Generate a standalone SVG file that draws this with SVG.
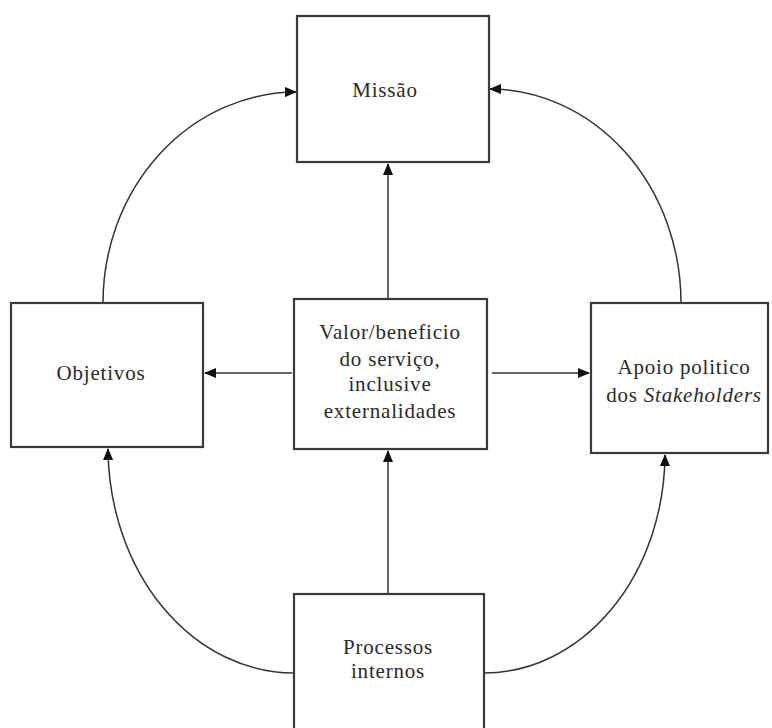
<svg xmlns="http://www.w3.org/2000/svg" width="772" height="728" viewBox="0 0 772 728">
<style>
.box{fill:#fff;stroke:#3a3a3a;stroke-width:2.2}
.lbl{font-family:"Liberation Serif","Times New Roman",serif;font-size:21px;fill:#2a2a2a;text-anchor:middle;letter-spacing:0.8px}
.con{fill:none;stroke:#333;stroke-width:1.5}
</style>
<defs>
<marker id="ah" markerWidth="12" markerHeight="10" refX="11" refY="5" orient="auto" markerUnits="userSpaceOnUse">
<path d="M0,0 L12,5 L0,10 Z" fill="#111"/>
</marker>
</defs>
<rect width="772" height="728" fill="#fff"/>
<g id="connectors">
<line class="con" x1="388" y1="299" x2="388" y2="164" marker-end="url(#ah)"/>
<line class="con" x1="388" y1="594" x2="388" y2="451" marker-end="url(#ah)"/>
<line class="con" x1="292" y1="373" x2="205" y2="373" marker-end="url(#ah)"/>
<line class="con" x1="492" y1="373" x2="589" y2="373" marker-end="url(#ah)"/>
<path class="con" d="M103,303 A194,211 0 0 1 296,92" marker-end="url(#ah)"/>
<path class="con" d="M681,303 A192,214 0 0 0 490,89" marker-end="url(#ah)"/>
<path class="con" d="M294,673 A186,226 0 0 1 108,449" marker-end="url(#ah)"/>
<path class="con" d="M484,673 A181,220 0 0 0 665,455" marker-end="url(#ah)"/>
</g>
<g id="missao">
<rect class="box" x="297" y="16" width="192" height="146"/>
<text class="lbl" x="385" y="97">Missão</text>
</g>
<g id="objetivos">
<rect class="box" x="11" y="303" width="192" height="144"/>
<text class="lbl" x="101" y="380">Objetivos</text>
</g>
<g id="valor">
<rect class="box" x="294" y="299" width="193" height="150"/>
<text class="lbl" x="390" y="339">Valor/beneficio</text>
<text class="lbl" x="390" y="366">do serviço,</text>
<text class="lbl" x="390" y="391">inclusive</text>
<text class="lbl" x="390" y="418">externalidades</text>
</g>
<g id="apoio">
<rect class="box" x="591" y="303" width="177" height="150"/>
<text class="lbl" x="684" y="374">Apoio politico</text>
<text class="lbl" x="684" y="402">dos <tspan font-style="italic">Stakeholders</tspan></text>
</g>
<g id="processos">
<rect class="box" x="294" y="594" width="190" height="140"/>
<text class="lbl" x="388" y="654">Processos</text>
<text class="lbl" x="388" y="678">internos</text>
</g>
</svg>
